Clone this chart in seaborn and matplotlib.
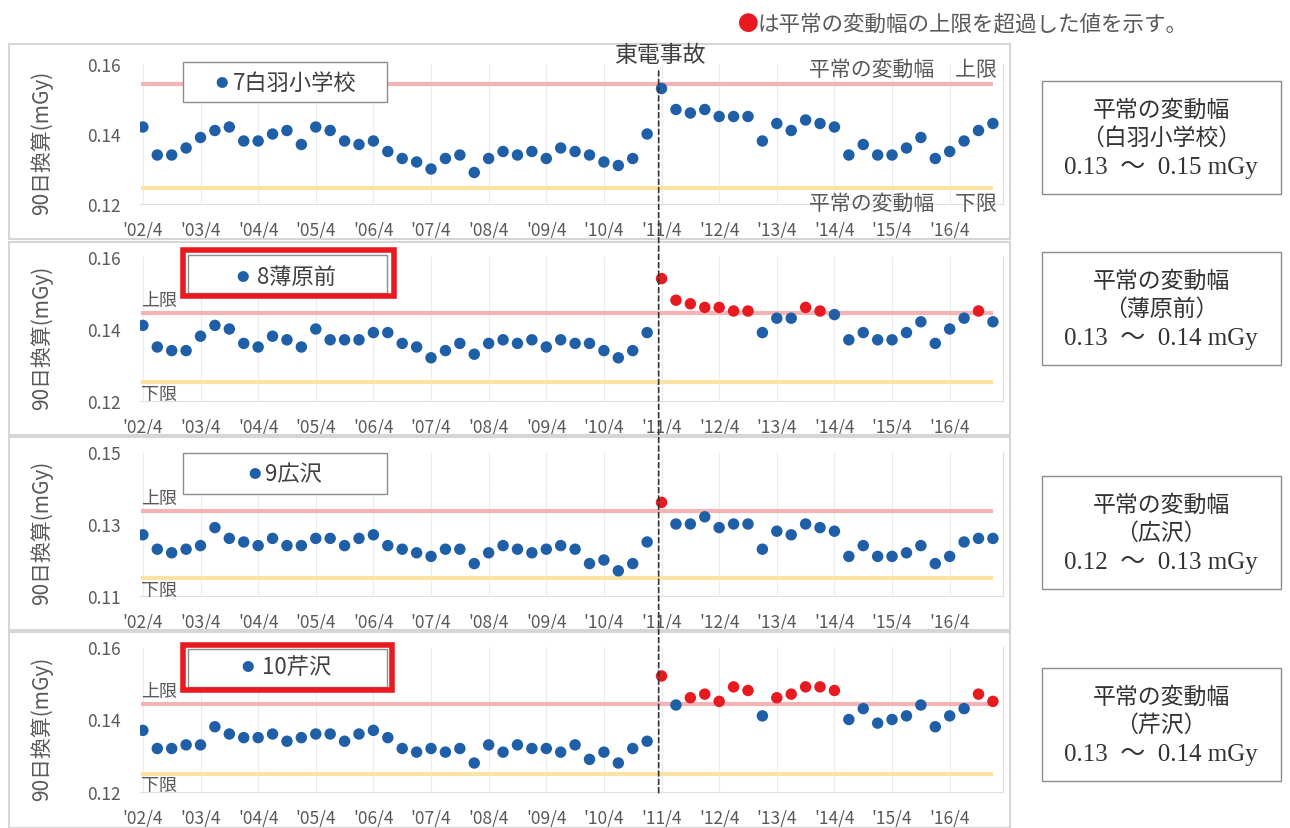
import numpy as np
import matplotlib.pyplot as plt
import seaborn as sns
from matplotlib.patches import Rectangle, ConnectionPatch

sns.set_theme(style="white")
plt.rcParams['font.family'] = ['Noto Sans CJK JP', 'DejaVu Sans']

# データ（四半期ごとの90日換算値, '02/4 〜 '17/1）
tick_labels = ["'02/4", "'03/4", "'04/4", "'05/4", "'06/4", "'07/4", "'08/4", "'09/4",
               "'10/4", "'11/4", "'12/4", "'13/4", "'14/4", "'15/4", "'16/4"]

shirahane = [0.142, 0.134, 0.134, 0.136, 0.139, 0.141, 0.142, 0.138, 0.138, 0.140,
             0.141, 0.137, 0.142, 0.141, 0.138, 0.137, 0.138, 0.135, 0.133, 0.132,
             0.130, 0.133, 0.134, 0.129, 0.133, 0.135, 0.134, 0.135, 0.133, 0.136,
             0.135, 0.134, 0.132, 0.131, 0.133, 0.140, 0.153, 0.147, 0.146, 0.147,
             0.145, 0.145, 0.145, 0.138, 0.143, 0.141, 0.144, 0.143, 0.142, 0.134,
             0.137, 0.134, 0.134, 0.136, 0.139, 0.133, 0.135, 0.138, 0.141, 0.143]
susukihara = [0.141, 0.135, 0.134, 0.134, 0.138, 0.141, 0.140, 0.136, 0.135, 0.138,
              0.137, 0.135, 0.140, 0.137, 0.137, 0.137, 0.139, 0.139, 0.136, 0.135,
              0.132, 0.134, 0.136, 0.133, 0.136, 0.137, 0.136, 0.137, 0.135, 0.137,
              0.136, 0.136, 0.134, 0.132, 0.134, 0.139, 0.154, 0.148, 0.147, 0.146,
              0.146, 0.145, 0.145, 0.139, 0.143, 0.143, 0.146, 0.145, 0.144, 0.137,
              0.139, 0.137, 0.137, 0.139, 0.142, 0.136, 0.140, 0.143, 0.145, 0.142]
hirosawa = [0.127, 0.123, 0.122, 0.123, 0.124, 0.129, 0.126, 0.125, 0.124, 0.126,
            0.124, 0.124, 0.126, 0.126, 0.124, 0.126, 0.127, 0.124, 0.123, 0.122,
            0.121, 0.123, 0.123, 0.119, 0.122, 0.124, 0.123, 0.122, 0.123, 0.124,
            0.123, 0.119, 0.120, 0.117, 0.119, 0.125, 0.136, 0.130, 0.130, 0.132,
            0.129, 0.130, 0.130, 0.123, 0.128, 0.127, 0.130, 0.129, 0.128, 0.121,
            0.124, 0.121, 0.121, 0.122, 0.124, 0.119, 0.121, 0.125, 0.126, 0.126]
serizawa = [0.137, 0.132, 0.132, 0.133, 0.133, 0.138, 0.136, 0.135, 0.135, 0.136,
            0.134, 0.135, 0.136, 0.136, 0.134, 0.136, 0.137, 0.135, 0.132, 0.131,
            0.132, 0.131, 0.132, 0.128, 0.133, 0.131, 0.133, 0.132, 0.132, 0.131,
            0.133, 0.129, 0.131, 0.128, 0.132, 0.134, 0.152, 0.144, 0.146, 0.147,
            0.145, 0.149, 0.148, 0.141, 0.146, 0.147, 0.149, 0.149, 0.148, 0.140,
            0.143, 0.139, 0.140, 0.141, 0.144, 0.138, 0.141, 0.143, 0.147, 0.145]

series = [shirahane, susukihara, hirosawa, serizawa]
stations = ["7白羽小学校", "8薄原前", "9広沢", "10芹沢"]
box_names = ["（白羽小学校）", "（薄原前）", "（広沢）", "（芹沢）"]
box_ranges = ["0.13  ～  0.15 mGy", "0.13  ～  0.14 mGy", "0.12  ～  0.13 mGy", "0.13  ～  0.14 mGy"]
upper = [0.1542, 0.1445, 0.1337, 0.1443]
lower = [0.1247, 0.1253, 0.1150, 0.1251]
ylims = [(0.12, 0.16), (0.12, 0.16), (0.11, 0.15), (0.12, 0.16)]

W, H = 1290, 829
BLUE = '#1f5fa8'
RED = '#e8191f'
GRAY = '#595959'


def fx(x):
    return x / W


def fy(y):
    return 1 - y / H


def box(fig, x0, y0, x1, y1, ec, lw, fc='none', z=3):
    r = Rectangle((fx(x0), fy(y1)), (x1 - x0) / W, (y1 - y0) / H, transform=fig.transFigure,
                  fill=(fc != 'none'), facecolor=fc, edgecolor=ec, linewidth=lw, zorder=z)
    fig.add_artist(r)


fig = plt.figure(figsize=(12.9, 8.29), dpi=100)

panel_px = [(65, 205), (258, 402), (453, 597), (648, 793)]
outer_px = [(45, 240), (243, 436), (438, 631), (633, 829)]
legend_px = [(183, 63, 387, 103), (188, 256, 387, 294), (183, 454, 387, 495), (188, 650, 387, 688)]
red_px = [None, (183, 251, 394, 297), None, (183, 646, 392, 691)]
dot_px = [(222, 83), (243, 277), (255, 475), (248, 668)]
text_x = [233, 257, 265, 262]
rbox_px = [82, 253, 477, 669]
serif = ['Liberation Serif', 'Noto Sans CJK JP']

axes = []
for i, vals in enumerate(series):
    top, bot = panel_px[i]
    ax = fig.add_axes([fx(140), fy(bot), (1003 - 140) / W, (bot - top) / H])
    axes.append(ax)
    xs = np.arange(len(vals))
    v = np.array(vals)
    exceed = v > upper[i]

    ax.hlines(upper[i], -0.1, 59, color='#f4b3b5', lw=3, zorder=1)
    ax.hlines(lower[i], -0.1, 59, color='#fbe3a6', lw=3, zorder=1)
    sns.scatterplot(x=xs, y=v, hue=exceed, palette={False: BLUE, True: RED},
                    s=68, edgecolor='none', legend=False, ax=ax, zorder=2)

    ax.set_xlim(-0.2, 59.7)
    ax.set_ylim(*ylims[i])
    lo, hi = ylims[i]
    ax.set_yticks([lo, (lo + hi) / 2, hi])
    ax.set_yticklabels([f"{t:.2f}" for t in [lo, (lo + hi) / 2, hi]])
    ax.set_xticks(np.arange(0, 60, 4))
    ax.set_xticklabels(tick_labels)
    ax.tick_params(axis='both', length=0, labelsize=12.5, labelcolor=GRAY)
    ax.tick_params(axis='y', pad=14)
    ax.tick_params(axis='x', pad=12)
    ax.grid(axis='x', color='#ececec', lw=0.8)
    for s in ['top', 'left']:
        ax.spines[s].set_visible(False)
    for s in ['bottom', 'right']:
        ax.spines[s].set_color('#e0e0e0')
        ax.spines[s].set_linewidth(0.8)

    fig.text(fx(42), fy((top + bot) / 2 + 8), "90日換算(mGy)", rotation=90,
             ha='center', va='center', fontsize=15, color=GRAY)

    if i == 0:
        ax.annotate("平常の変動幅　上限", (59.3, upper[i]), xytext=(0, 3), textcoords='offset points',
                    ha='right', va='bottom', fontsize=15, color=GRAY)
        ax.annotate("平常の変動幅　下限", (59.3, lower[i]), xytext=(0, -3), textcoords='offset points',
                    ha='right', va='top', fontsize=15, color=GRAY, annotation_clip=False)
    else:
        ax.annotate("上限", (-0.1, upper[i]), xytext=(0, 3), textcoords='offset points',
                    ha='left', va='bottom', fontsize=13, color=GRAY)
        ax.annotate("下限", (-0.1, lower[i]), xytext=(0, -2), textcoords='offset points',
                    ha='left', va='top', fontsize=13, color=GRAY, annotation_clip=False)

    # パネル枠
    o0, o1 = outer_px[i]
    box(fig, 9, o0, 1010, o1, '#d6d6d6', 1.5, z=1)

    # 凡例ボックス
    lx0, ly0, lx1, ly1 = legend_px[i]
    box(fig, lx0, ly0, lx1, ly1, '#8c8c8c', 1.0, fc='white', z=3)
    if red_px[i] is not None:
        rx0, ry0, rx1, ry1 = red_px[i]
        box(fig, rx0, ry0, rx1, ry1, RED, 4, z=4)
    dx, dy = dot_px[i]
    fig.text(fx(dx), fy(dy), "●", ha='center', va='center', fontsize=9, color=BLUE, zorder=5)
    fig.text(fx(text_x[i]), fy(dy), stations[i], ha='left', va='center', fontsize=16,
             color='#404040', zorder=5)

    # 右側の説明ボックス
    t = rbox_px[i]
    box(fig, 1042, t, 1281, t + 113, '#8c8c8c', 1.0, z=3)
    fig.text(fx(1161), fy(t + 29), "平常の変動幅", ha='center', va='center', fontsize=16.5,
             color='#333333', family=serif)
    fig.text(fx(1161), fy(t + 57), box_names[i], ha='center', va='center', fontsize=16.5,
             color='#333333', family=serif)
    fig.text(fx(1161), fy(t + 86), box_ranges[i], ha='center', va='center', fontsize=18,
             color='#333333', family=serif)

# 東電事故の破線
con = ConnectionPatch(xyA=(35.8, (205 - 72) / 140), coordsA=axes[0].get_xaxis_transform(),
                      xyB=(35.8, -0.015), coordsB=axes[3].get_xaxis_transform(),
                      linestyle=(0, (3, 2)), color='#333333', lw=1.2, zorder=6)
fig.add_artist(con)
fig.text(fx(660), fy(55), "東電事故", ha='center', va='center', fontsize=16.5, color='#404040')

# 注記
fig.text(fx(748), fy(25), "●", ha='center', va='center', fontsize=15, color=RED)
fig.text(fx(758), fy(25), "は平常の変動幅の上限を超過した値を示す。", ha='left', va='center',
         fontsize=15.5, color=GRAY, family=serif)

fig.savefig("out.png", dpi=100)
